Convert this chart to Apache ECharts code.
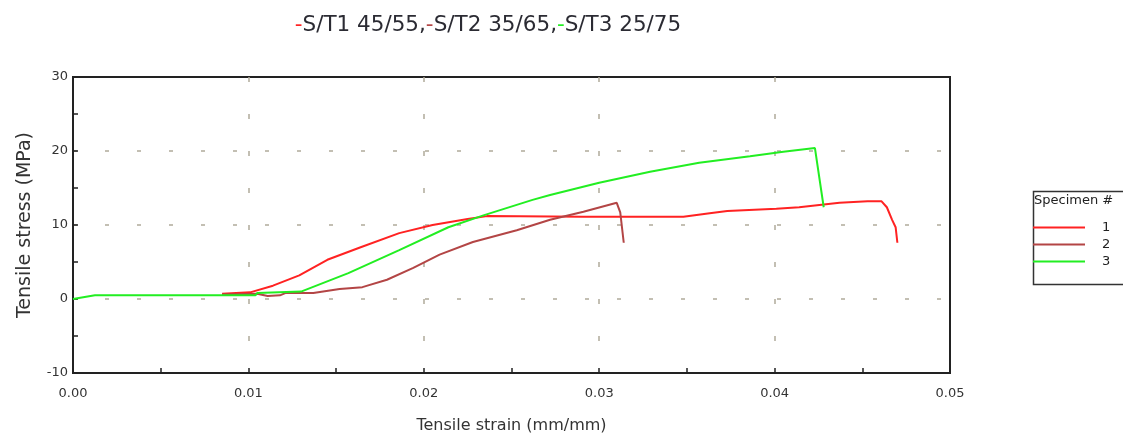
<!DOCTYPE html>
<html><head><meta charset="utf-8">
<script src="https://cdn.jsdelivr.net/npm/echarts@6/dist/echarts.min.js"></script>
<style>html,body{margin:0;padding:0;background:#fff}#c{width:1123px;height:436px}</style>
</head><body><div id="c"></div>
<script>
// Specimen 1 (S/T1 45/55): [strain, stress]
const spec1 = [[0.0085,0.7],[0.0101,0.9],[0.0114,1.8],[0.0129,3.2],[0.0145,5.3],[0.0164,7.0],[0.0186,8.9],[0.0205,10.0],[0.0225,10.8],[0.0236,11.2],[0.0291,11.1],[0.0348,11.1],[0.0363,11.6],[0.0373,11.9],[0.0401,12.2],[0.0414,12.4],[0.0437,13.0],[0.0453,13.2],[0.0461,13.2],[0.0464,12.4],[0.0467,10.7],[0.0469,9.7],[0.0470,7.6]];
// Specimen 2 (S/T2 35/65)
const spec2 = [[0.0085,0.6],[0.0105,0.7],[0.0111,0.4],[0.0118,0.5],[0.0121,0.8],[0.0137,0.8],[0.0152,1.35],[0.0165,1.6],[0.0179,2.6],[0.0194,4.2],[0.0209,6.0],[0.0228,7.7],[0.0253,9.3],[0.0272,10.7],[0.0291,11.8],[0.0310,13.0],[0.0312,11.7],[0.0314,7.6]];
// Specimen 3 (S/T3 25/75)
const spec3 = [[0,0],[0.00125,0.5],[0.0104,0.5],[0.0105,0.8],[0.0130,1.0],[0.0157,3.5],[0.0186,6.6],[0.0214,9.7],[0.0234,11.3],[0.0262,13.4],[0.0272,14.05],[0.0300,15.7],[0.0329,17.2],[0.0357,18.4],[0.0386,19.3],[0.0405,19.9],[0.0423,20.4],[0.0428,12.4]];
const seriesNames = ['1','2','3'];
const titleParts = ['S/T1 45/55,','S/T2 35/65,','S/T3 25/75'];
const colors = ['#ff2222','#b34545','#22ee22'];
const xTicks = {min:0, max:0.05, interval:0.01};
const yTicks = {min:-10, max:30, interval:10};

const chart = echarts.init(document.getElementById('c'));
const font = 'DejaVu Sans';
const data = [spec1, spec2, spec3];
const tStyle = (c)=>({fontFamily:font,fontSize:21.5,fontWeight:'normal',color:c});
chart.setOption({
  animation:false,
  backgroundColor:'#fff',
  title:{
    left:483, textAlign:'center', top:9,
    text:'{d0|-}{t|'+titleParts[0]+'}{d1|-}{t|'+titleParts[1]+'}{d2|-}{t|'+titleParts[2]+'}',
    textStyle:{fontWeight:'normal',rich:{
      t:tStyle('#2b2b33'), d0:tStyle(colors[0]), d1:tStyle(colors[1]), d2:tStyle(colors[2])
    }}
  },
  grid:{left:73,right:173,top:77,bottom:63,show:true,borderColor:'#222',borderWidth:2,backgroundColor:'transparent',containLabel:false,outerBoundsMode:'none'},
  xAxis:{
    type:'value', min:xTicks.min, max:xTicks.max, interval:xTicks.interval,
    name:'Tensile strain (mm/mm)', nameLocation:'middle', nameGap:45,
    nameTextStyle:{fontFamily:font,fontSize:16,color:'#333'},
    axisLine:{onZero:false,lineStyle:{color:'#222',width:2}},
    axisTick:{inside:true,length:5,lineStyle:{color:'#222',width:1.5}},
    minorTick:{show:true,splitNumber:2,length:5,lineStyle:{color:'#222',width:1.5}},
    axisLabel:{fontFamily:font,fontSize:13,color:'#333',margin:14,formatter:v=>v.toFixed(2)},
    splitLine:{show:true,showMinLine:false,showMaxLine:false,lineStyle:{color:'#b0aa9a',type:[5,32],width:1.5}}
  },
  yAxis:{
    type:'value', min:yTicks.min, max:yTicks.max, interval:yTicks.interval,
    name:'Tensile stress (MPa)', nameLocation:'middle', nameGap:38,
    nameTextStyle:{fontFamily:font,fontSize:19,color:'#333'},
    axisLine:{onZero:false,lineStyle:{color:'#222',width:2}},
    axisTick:{inside:true,length:5,lineStyle:{color:'#222',width:1.5}},
    minorTick:{show:true,splitNumber:2,length:5,lineStyle:{color:'#222',width:1.5}},
    axisLabel:{fontFamily:font,fontSize:13,color:'#333',margin:5},
    splitLine:{show:true,showMinLine:false,showMaxLine:false,lineStyle:{color:'#b0aa9a',type:[4,28],width:1.5}}
  },
  legend:{
    orient:'vertical', left:1033, top:221, padding:0, data:seriesNames,
    icon:'rect', itemWidth:52, itemHeight:2, itemGap:4,
    textStyle:{fontFamily:font,fontSize:13,color:'#222',padding:[0,0,0,12]}
  },
  graphic:[
    {type:'rect',left:1031,top:189,shape:{width:100,height:93},style:{fill:'none',stroke:'#333',lineWidth:1.5}},
    {type:'text',left:1034,top:194,style:{text:'Specimen #',font:'13px "DejaVu Sans"',fill:'#222'}}
  ],
  series:data.map((d,i)=>({
    name:seriesNames[i], type:'line', data:d, showSymbol:false, symbol:'none',
    lineStyle:{color:colors[i],width:2}, itemStyle:{color:colors[i]}
  }))
});
</script></body></html>
